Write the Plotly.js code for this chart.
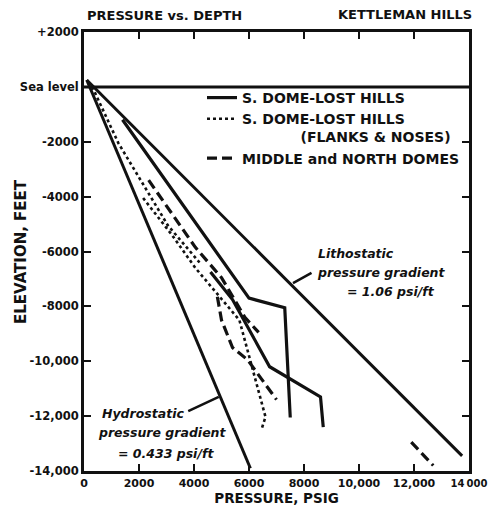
<!DOCTYPE html>
<html>
<head>
<meta charset="utf-8">
<script src="https://cdn.plot.ly/plotly-3.0.1.min.js"></script>
<style>html,body{margin:0;padding:0;background:#fff;}#chart{width:488px;height:520px;}</style>
</head>
<body>
<div id="chart"></div>
<script>
// ---- Data ----
const pressureTicks = [0, 2000, 4000, 6000, 8000, 10000, 12000, 14000];
const pressureTickText = ["0", "2000", "4000", "6000", "8000", "10,000", "12,000",
  "<span style='font-size:10px'>14\u2009000</span>"];
const elevTicks = [2000, 0, -2000, -4000, -6000, -8000, -10000, -12000, -14000];
const elevTickText = ["+2000", "Sea level", "-2000", "-4000", "-6000", "-8000", "-10,000", "-12,000", "-14,000"];

const seaLevelPsi = [0, 14000];
const seaLevelElev = [0, 0];
const lithoPsi = [100, 13750];
const lithoElev = [250, -13450];
const hydroPsi = [100, 6050];
const hydroElev = [250, -13900];

const sDome1Psi = [1400, 6000, 7300, 7500];
const sDome1Elev = [-1200, -7700, -8050, -12050];
const sDome2Psi = [4600, 5400, 6750, 8600, 8700];
const sDome2Elev = [-6750, -7750, -10200, -11300, -12400];

const flanks1Psi = [2150, 3200, 4050, 5650, 6600, 6450];
const flanks1Elev = [-4050, -5400, -6600, -8500, -12030, -12500];
const flanks2Psi = [300, 1250, 3050, 4200];
const flanks2Elev = [0, -2050, -5050, -6400];

const middle1Psi = [2350, 4050, 5000, 5850, 6350];
const middle1Elev = [-3400, -5850, -6950, -8400, -8950];
const middle2Psi = [4850, 5000, 5400, 5950, 7000];
const middle2Elev = [-7650, -8500, -9500, -9950, -11400];
const middle3Psi = [11900, 12700];
const middle3Elev = [-12950, -13800];

const lithoLeader = [7600, -7150];
const hydroLeader = [4900, -11300];

// ---- Styling ----
const INK = '#111';
const FONT = 'DejaVu Sans';

function line(x, y, opts) {
  return Object.assign({
    type: 'scatter', mode: 'lines', x: x, y: y,
    line: {color: INK, width: 3},
    showlegend: false, hoverinfo: 'skip'
  }, opts || {});
}

const NB = '\u00a0';
const solidName = 'S. DOME-LOST HILLS';
const flankName = 'S. DOME-LOST HILLS<br>' + NB.repeat(12) + '(FLANKS &amp; NOSES)';
const midName = 'MIDDLE and NORTH DOMES';

const traces = [
  line(seaLevelPsi, seaLevelElev),
  line(lithoPsi, lithoElev),
  line(hydroPsi, hydroElev),
  line(sDome1Psi, sDome1Elev, {name: solidName, legendgroup: 'sd', showlegend: true, line: {color: INK, width: 3.2}}),
  line(sDome2Psi, sDome2Elev, {name: solidName, legendgroup: 'sd', line: {color: INK, width: 3.2}}),
  line(flanks1Psi, flanks1Elev, {name: flankName, legendgroup: 'fn', showlegend: true, line: {color: INK, width: 2.6, dash: 'dot'}}),
  line(flanks2Psi, flanks2Elev, {name: flankName, legendgroup: 'fn', line: {color: INK, width: 2.6, dash: 'dot'}}),
  line(middle1Psi, middle1Elev, {name: midName, legendgroup: 'md', showlegend: true, line: {color: INK, width: 3.2, dash: '10px,5px'}}),
  line(middle2Psi, middle2Elev, {name: midName, legendgroup: 'md', line: {color: INK, width: 3.2, dash: '10px,5px'}}),
  line(middle3Psi, middle3Elev, {name: midName, legendgroup: 'md', line: {color: INK, width: 3.2, dash: '10px,5px'}})
];

const noteFont = {family: FONT, size: 12.5, color: INK, weight: 700, style: 'italic'};
// paper coordinate helpers (plot area 84..469 x 32..471)
const px = v => (v - 84) / 385;
const py = v => (471 - v) / 439;
function note(text, xp, yp) {
  return {xref: 'paper', yref: 'paper', x: px(xp), y: py(yp), text: text, showarrow: false,
          xanchor: 'left', yanchor: 'middle', font: noteFont};
}

const layout = {
  width: 488, height: 520,
  margin: {l: 84, r: 19, t: 32, b: 49},
  paper_bgcolor: '#fff', plot_bgcolor: '#fff',
  font: {family: FONT, color: INK, size: 11, weight: 700},
  title: {text: 'PRESSURE vs. DEPTH', x: 87 / 488, xanchor: 'left', xref: 'container',
          y: 1 - 15 / 520, yanchor: 'middle', yref: 'container',
          font: {family: FONT, size: 13, color: INK, weight: 700}},
  xaxis: {
    range: [0, 14000], tickvals: pressureTicks, ticktext: pressureTickText,
    showgrid: false, zeroline: false, showline: true, linewidth: 3, linecolor: INK,
    mirror: 'ticks', ticks: 'inside', ticklen: 7, tickwidth: 2, tickcolor: INK,
    ticklabeloverflow: 'allow',
    tickfont: {family: FONT, size: 11, color: INK, weight: 700},
    title: {text: 'PRESSURE, PSIG', standoff: 5, font: {family: FONT, size: 13.5, color: INK, weight: 700}}
  },
  yaxis: {
    range: [-14000, 2000], tickvals: elevTicks, ticktext: elevTickText,
    showgrid: false, zeroline: false, showline: true, linewidth: 3, linecolor: INK,
    mirror: 'ticks', ticks: 'inside', ticklen: 7, tickwidth: 2, tickcolor: INK,
    ticklabeloverflow: 'allow',
    tickfont: {family: FONT, size: 11.5, color: INK, weight: 700}
  },
  showlegend: true,
  legend: {
    x: px(202), y: py(82), xanchor: 'left', yanchor: 'top',
    bgcolor: 'rgba(0,0,0,0)', borderwidth: 0, valign: 'top',
    font: {family: FONT, size: 14, color: INK, weight: 700},
    itemwidth: 30, tracegroupgap: 0
  },
  annotations: [
    {xref: 'paper', yref: 'paper', x: px(474), y: py(15), text: 'KETTLEMAN HILLS', showarrow: false,
     xanchor: 'right', yanchor: 'middle',
     font: {family: FONT, size: 13, color: INK, weight: 700}},
    {xref: 'paper', yref: 'paper', x: px(21), y: py(252), text: 'ELEVATION, FEET', showarrow: false,
     textangle: -90, xanchor: 'center', yanchor: 'middle',
     font: {family: FONT, size: 15, color: INK, weight: 700}},
    note('Lithostatic', 316, 253),
    note('pressure gradient', 315, 272),
    note('= 1.06 psi/ft', 345, 291),
    note('Hydrostatic', 100, 413),
    note('pressure gradient', 96, 432),
    note('= 0.433 psi/ft', 116, 453),
    {x: lithoLeader[0], y: lithoLeader[1], xref: 'x', yref: 'y', text: '', showarrow: true,
     arrowhead: 0, arrowwidth: 2.5, arrowcolor: INK, ax: 20, ay: -11, standoff: 0},
    {x: hydroLeader[0], y: hydroLeader[1], xref: 'x', yref: 'y', text: '', showarrow: true,
     arrowhead: 0, arrowwidth: 2.5, arrowcolor: INK, ax: -32, ay: 15, standoff: 0}
  ]
};

Plotly.newPlot('chart', traces, layout, {staticPlot: true, displayModeBar: false});
</script>
</body>
</html>
